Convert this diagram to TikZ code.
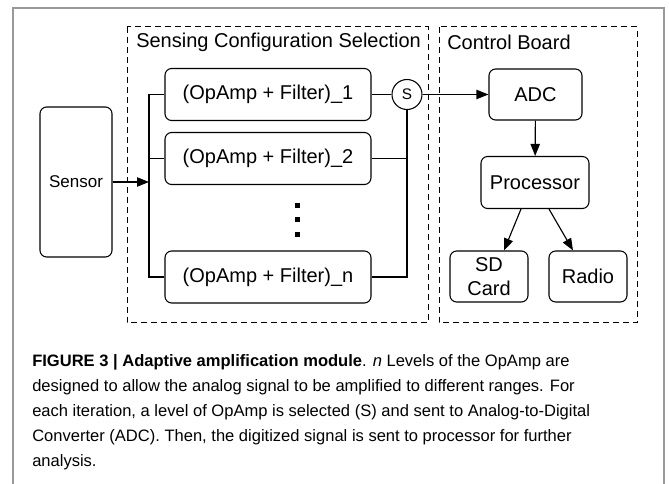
\documentclass[tikz,border=0pt]{standalone}
\usepackage{fontspec}
\setmainfont{Liberation Sans}
\usetikzlibrary{arrows.meta}

\definecolor{framegray}{rgb}{0.6,0.6,0.6}
\newcommand{\capfont}{\fontsize{12.4}{14}\selectfont}
\newcommand{\boxfont}{\fontsize{15}{18}\selectfont}

\begin{document}
\begin{tikzpicture}[x=0.75pt, y=-0.75pt,
    block/.style={draw, rounded corners=5pt, line width=0.8pt, align=center, inner sep=0pt, font=\boxfont},
    group/.style={draw, dash pattern=on 4.5pt off 3pt, line width=0.75pt},
    grouplabel/.style={anchor=west, inner sep=0pt, font=\boxfont},
    caption/.style={anchor=base west, inner sep=0pt, font=\capfont},
    wire/.style={line width=0.85pt},
    arr/.style={wire, -{Triangle[length=9pt,width=7pt]}}]
    \useasboundingbox (0,0) rectangle (669,484);
    \draw[framegray, line width=0.9pt] (13,484) -- (13,8) -- (664,8) -- (664,484);

    \draw[group] (127,27) rectangle (428,323);
    \draw[group] (439,27) rectangle (637,323);
    \node[grouplabel] (sensinglabel) at (136,42) {Sensing Configuration Selection};
    \node[grouplabel] (controllabel) at (447,42) {Control Board};

    \node[block, minimum width=54pt, minimum height=112.5pt, font=\fontsize{12.75}{15}\selectfont] (sensor) at (76,182) {Sensor};
    \node[block, minimum width=154.5pt, minimum height=39pt] (amp1) at (268,94.5) {(OpAmp + Filter)\_1};
    \node[block, minimum width=154.5pt, minimum height=39pt] (amp2) at (268,158.5) {(OpAmp + Filter)\_2};
    \node[block, minimum width=154.5pt, minimum height=39pt] (ampn) at (268,277) {(OpAmp + Filter)\_n};
    \foreach \y in {203,217,232}
        \fill (295,\y) rectangle ++(5,5);
    \node[draw, circle, line width=0.8pt, minimum size=22.5pt, inner sep=0pt, font=\fontsize{11.5}{13}\selectfont] (sel) at (407,94.5) {S};

    \node[block, minimum width=69.75pt, minimum height=38.25pt] (adc) at (535.5,94.5) {ADC};
    \node[block, minimum width=81pt, minimum height=39pt] (proc) at (535,182.5) {Processor};
    \node[block, minimum width=58.5pt, minimum height=38.25pt] (sd) at (489,276.5) {SD\\Card};
    \node[block, minimum width=58.5pt, minimum height=38.25pt] (radio) at (588,276.5) {Radio};

    \coordinate (split) at (149,182);
    \draw[arr] (sensor) -- (split);
    \draw[wire] (amp1.west) -| (split) |- (ampn.west);
    \draw[wire] (amp2.west) -- (amp2.west -| split);
    \draw[wire] (amp1) -- (sel);
    \draw[wire] (sel) |- (ampn.east);
    \draw[wire] (amp2.east) -- (amp2.east -| sel);
    \draw[arr] (sel) -- (adc);
    \draw[arr] (adc) -- (proc);
    \draw[arr] ([xshift=-10.5pt]proc.south) -- ([xshift=11.25pt]sd.north);
    \draw[arr] ([xshift=10.5pt]proc.south) -- ([xshift=-11.25pt]radio.north);

    \node[caption] (cap1) at (32,367) {\textbf{FIGURE 3 | Adaptive amplification module}. \textit{n} Levels of the OpAmp are};
    \node[caption] (cap2) at (32,392) {designed to allow the analog signal to be amplified to different ranges. For};
    \node[caption] (cap3) at (32,417) {each iteration, a level of OpAmp is selected (S) and sent to Analog-to-Digital};
    \node[caption] (cap4) at (32,442) {Converter (ADC). Then, the digitized signal is sent to processor for further};
    \node[caption] (cap5) at (32,467) {analysis.};
\end{tikzpicture}
\end{document}
